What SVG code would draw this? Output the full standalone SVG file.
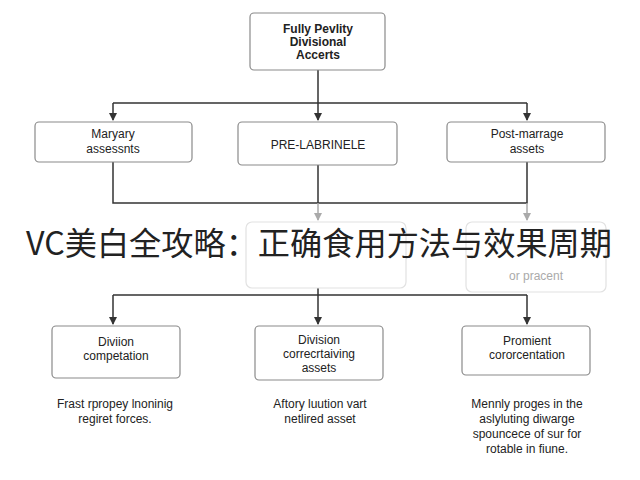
<svg xmlns="http://www.w3.org/2000/svg" width="640" height="480" viewBox="0 0 640 480">
<style>
.box{fill:#fff;stroke:#8a8a8a;stroke-width:1.2}
.faint{fill:#fff;stroke:#e2e2e2;stroke-width:1.2}
.t{font-family:"Liberation Sans",Arial,sans-serif;font-size:12px;fill:#222;text-anchor:middle}
.c{font-family:"Liberation Sans",Arial,sans-serif;font-size:12px;fill:#222;text-anchor:middle}
.ln{stroke:#333;stroke-width:1.5;fill:none}
.lg{stroke:#aaa;stroke-width:1.5;fill:none}
</style>
<defs>
<marker id="a" markerWidth="8" markerHeight="8" refX="7" refY="4" orient="auto" markerUnits="userSpaceOnUse"><path d="M0,0L8,4L0,8Z" fill="#333"/></marker>
<marker id="g" markerWidth="8" markerHeight="8" refX="7" refY="4" orient="auto" markerUnits="userSpaceOnUse"><path d="M0,0L8,4L0,8Z" fill="#aaa"/></marker>
</defs>
<rect width="640" height="480" fill="#fff"/>
<g id="connectors">
<path class="ln" d="M318,70V103M113,103H527"/>
<path class="ln" d="M113,103V120" marker-end="url(#a)"/>
<path class="ln" d="M318,103V120" marker-end="url(#a)"/>
<path class="ln" d="M527,103V120" marker-end="url(#a)"/>
<path class="ln" d="M113,162V203H527V162M318,165V203"/>
<path class="lg" d="M318,203V220" marker-end="url(#g)"/>
<path class="lg" d="M527,203V220" marker-end="url(#g)"/>
<path class="ln" d="M318,288V295M113,295H527"/>
<path class="ln" d="M113,295V324" marker-end="url(#a)"/>
<path class="ln" d="M318,295V324" marker-end="url(#a)"/>
<path class="ln" d="M527,295V324" marker-end="url(#a)"/>
</g>
<g id="n0"><rect class="box" x="250" y="13" width="135" height="57" rx="4"/>
<text class="t" font-weight="bold" x="318" y="33">Fully Pevlity</text><text class="t" font-weight="bold" x="318" y="46">Divisional</text><text class="t" font-weight="bold" x="318" y="59">Accerts</text></g>
<g id="n1"><rect class="box" x="35" y="122" width="157" height="40" rx="4"/>
<text class="t" x="113" y="138">Maryary</text><text class="t" x="113" y="153">assessnts</text></g>
<g id="n2"><rect class="box" x="238" y="122" width="159" height="43" rx="4"/>
<text class="t" font-size="15" x="318" y="149">PRE-LABRINELE</text></g>
<g id="n3"><rect class="box" x="447" y="122" width="158" height="40" rx="4"/>
<text class="t" x="527" y="138">Post-marrage</text><text class="t" x="527" y="153">assets</text></g>
<g id="n4"><rect class="faint" x="246" y="222" width="160" height="66" rx="6"/></g>
<g id="n5"><rect class="faint" x="466" y="222" width="140" height="70" rx="6"/>
<text class="t" style="fill:#aaa" x="536" y="280">or pracent</text></g>
<g id="n6"><rect class="box" x="52" y="326" width="128" height="52" rx="4"/>
<text class="t" x="116" y="346">Diviion</text><text class="t" x="116" y="360">competation</text></g>
<g id="n7"><rect class="box" x="255" y="326" width="128" height="54" rx="4"/>
<text class="t" x="319" y="344">Division</text><text class="t" x="319" y="358">correcrtaiving</text><text class="t" x="319" y="372">assets</text></g>
<g id="n8"><rect class="box" x="462" y="326" width="128" height="49" rx="4"/>
<text class="t" x="527" y="345">Promient</text><text class="t" x="527" y="359">cororcentation</text></g>
<g id="captions">
<text class="c" x="115" y="408">Frast rpropey lnoninig</text><text class="c" x="115" y="423">regiret forces.</text>
<text class="c" x="320" y="408">Aftory luution vart</text><text class="c" x="320" y="423">netlired asset</text>
<text class="c" x="527" y="408">Mennly proges in the</text><text class="c" x="527" y="423">aslyluting diwarge</text><text class="c" x="527" y="438">spouncece of sur for</text><text class="c" x="527" y="453">rotable in fiune.</text>
</g>
<text x="319" y="255" font-family="'Noto Sans CJK SC',sans-serif" font-size="32" fill="#222" text-anchor="middle" textLength="586" lengthAdjust="spacingAndGlyphs">VC美白全攻略：正确食用方法与效果周期</text>
</svg>
